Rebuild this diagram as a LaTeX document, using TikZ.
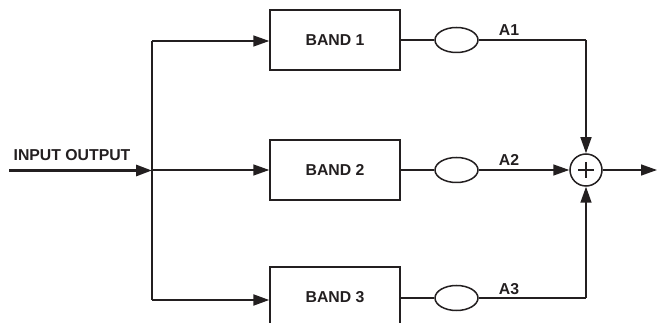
\documentclass[tikz,border=0pt]{standalone}
\usepackage{fontspec}
\setmainfont{Liberation Sans}
\usetikzlibrary{arrows.meta,shapes.geometric}
\definecolor{ink}{HTML}{231F20}
\begin{document}
\begin{tikzpicture}[x=1pt,y=-1pt,
    every node/.style={font=\fontsize{15.8}{17}\selectfont\bfseries, text=ink},
    band/.style={draw=ink, line width=1.5pt, minimum width=130pt, minimum height=60pt, inner sep=0pt},
    gain/.style={draw=ink, ellipse, line width=1.5pt, minimum width=43pt, minimum height=25pt, inner sep=0pt},
    summer/.style={draw=ink, circle, line width=1.5pt, minimum size=32pt, inner sep=0pt},
    wire/.style={draw=ink, line width=1.5pt},
    arr/.style={wire, -{Triangle[length=16pt,width=11pt]}}]
    \useasboundingbox (0,0) rectangle (657,323);
    % blocks
    \node[band] (band1) at (335,40) {BAND 1};
    \node[band] (band2) at (335,170) {BAND 2};
    \node[band] (band3) at (335,297) {BAND 3};
    \node[gain] (g1) at (456.5,40) {};
    \node[gain] (g2) at (456.5,170) {};
    \node[gain] (g3) at (456.5,298) {};
    \node[summer] (sum) at (586,170) {};
    \draw[ink, line width=1.5pt] (sum.center) ++(-8,0) -- ++(16,0) (sum.center) ++(0,-8) -- ++(0,16);
    % branch points
    \coordinate (in) at (9,170.5);
    \coordinate (split) at (152,170.5);
    \coordinate (s1) at (152,41);
    \coordinate (s3) at (152,300);
    \coordinate (c1) at (586,40);
    \coordinate (c3) at (586,298);
    \coordinate (out) at (657,170);
    % input side
    \draw[arr, line width=3pt] (in) -- (split);
    \node (inlbl) at (72,155) {INPUT OUTPUT};
    \draw[wire] (s1) -- (s3);
    \draw[arr] (s1) -- (band1.west |- s1);
    \draw[arr] (split |- band2) -- (band2.west);
    \draw[arr, line width=2.2pt] (s3) -- (band3.west |- s3);
    % gains
    \draw[wire] (band1.east) -- (g1.west);
    \draw[wire] (band2.east) -- (g2.west);
    \draw[wire] (band3.east |- g3) -- (g3.west);
    \draw[wire] (g1.east) -- (c1);
    \draw[arr] (c1) -- (sum.north);
    \draw[arr] (g2.east) -- (sum.west);
    \draw[wire] (g3.east) -- (c3);
    \draw[arr] (c3) -- (sum.south);
    \draw[arr] (sum.east) -- (out);
    % labels
    \node (a1) at (509,30) {A1};
    \node (a2) at (509,160) {A2};
    \node (a3) at (509,289) {A3};
\end{tikzpicture}
\end{document}
